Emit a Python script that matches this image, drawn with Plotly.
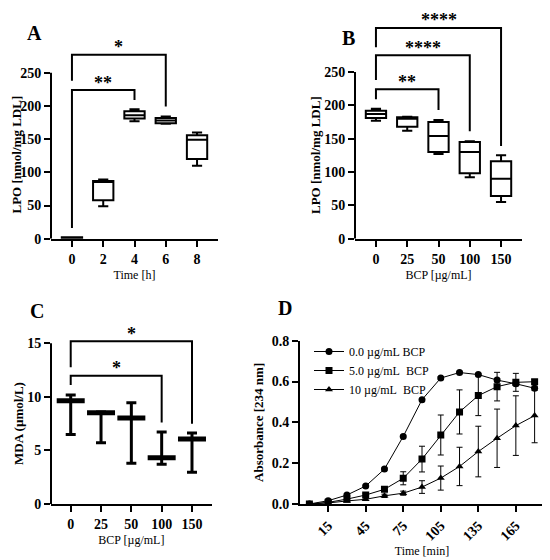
import plotly.graph_objects as go

FONT = "Liberation Serif, Times New Roman, serif"

# ---- panel A: LPO over time (box stats, nmol/mg LDL)
time_h = ["0", "2", "4", "6", "8"]
a_min = [0, 49, 177, 173, 110]
a_q1 = [0, 58, 181, 174, 120]
a_med = [1, 86, 186, 178, 149]
a_q3 = [2, 87, 192, 182, 156]
a_max = [2, 89, 195, 184, 160]
# significance brackets: (from, to, left leg end, top, right leg end, label)
sig_a = [("0", "4", 16, 224, 209, "**"),
         ("0", "6", 238, 277, 199, "*")]

# ---- panel B: LPO vs BCP dose
bcp = ["0", "25", "50", "100", "150"]
b_min = [177, 162, 127, 92, 55]
b_q1 = [181, 168, 130, 98, 64]
b_med = [187, 180, 154, 130, 90]
b_q3 = [192, 182, 175, 145, 116]
b_max = [195, 183, 178, 146, 125]
sig_b = [("0", "50", 209, 224, 193, "**"),
         ("0", "100", 238, 275, 161, "****"),
         ("0", "150", 287, 316, 139, "****")]

# ---- panel C: MDA, mean with range
c_mean = [9.65, 8.53, 8.03, 4.33, 6.07]
c_low = [6.5, 5.73, 3.8, 3.7, 2.96]
c_high = [10.18, 8.6, 9.46, 6.72, 6.63]
sig_c = [("0", "100", 11.1, 11.98, 7.6, "*"),
         ("0", "150", 12.76, 15.2, 7.5, "*")]

# ---- panel D: absorbance kinetics
time_min = [0, 15, 30, 45, 60, 75, 90, 105, 120, 135, 150, 165, 180]
abs_0 = [0.0, 0.016, 0.044, 0.088, 0.171, 0.331, 0.511, 0.617, 0.644, 0.634, 0.607, 0.589, 0.567]
abs_5 = [0.0, 0.008, 0.024, 0.044, 0.072, 0.126, 0.220, 0.338, 0.451, 0.531, 0.575, 0.596, 0.599]
abs_10 = [0.0, 0.005, 0.015, 0.023, 0.040, 0.053, 0.083, 0.127, 0.184, 0.257, 0.322, 0.384, 0.433]
sd_0 = [0, 0.002, 0.003, 0.004, 0.005, 0.006, 0.006, 0.006, 0.006, 0.006, 0.008, 0.010, 0.010]
sd_5 = [0, 0.003, 0.005, 0.008, 0.010, 0.032, 0.063, 0.098, 0.108, 0.098, 0.070, 0.044, 0.010]
sd_10 = [0, 0.002, 0.004, 0.006, 0.008, 0.010, 0.031, 0.059, 0.094, 0.124, 0.143, 0.146, 0.133]

# the page body has an 8px margin, so the figure is sized to fill the rest of the window
W, H, OFF = 542, 552, 8


def fx(px):
    return (px - OFF) / W


def fy(py):
    return 1 - (py - OFF) / H


dom = {
    "A": ([fx(51), fx(218)], [fy(238.7), fy(15)]),
    "B": ([fx(355), fx(522)], [fy(238.7), fy(15)]),
    "C": ([fx(51), fx(211.7)], [fy(504), fy(320)]),
    "D": ([fx(300), fx(544)], [fy(504), fy(340.7)]),
}

fig = go.Figure()


def add_box(xs, lo, q1, med, q3, hi, ax):
    fig.add_trace(go.Box(x=xs, lowerfence=lo, q1=q1, median=med, q3=q3, upperfence=hi,
                         fillcolor="white", line=dict(color="black", width=2),
                         width=0.65, whiskerwidth=0.5, boxpoints=False,
                         showlegend=False, hoverinfo="skip",
                         xaxis="x" + ax, yaxis="y" + ax))


def add_brackets(sig, cats, ax, fsize=18):
    for c1, c2, yl, yt, yr, lab in sig:
        fig.add_trace(go.Scatter(x=[c1, c1, c2, c2], y=[yl, yt, yt, yr], mode="lines",
                                 line=dict(color="black", width=2), showlegend=False,
                                 hoverinfo="skip", xaxis="x" + ax, yaxis="y" + ax))
        mid = (cats.index(c1) + cats.index(c2)) / 2
        fig.add_annotation(x=mid, y=yt, xref="x" + ax, yref="y" + ax, text=lab,
                           showarrow=False, xanchor="center", yanchor="middle", yshift=7.5,
                           font=dict(family=FONT, size=fsize, color="black", weight="bold"))


add_box(time_h, a_min, a_q1, a_med, a_q3, a_max, "")
add_brackets(sig_a, time_h, "")
add_box(bcp, b_min, b_q1, b_med, b_q3, b_max, "2")
add_brackets(sig_b, bcp, "2")

# C: thick mean bar + range whiskers
fig.add_trace(go.Scatter(
    x=bcp, y=c_mean, mode="markers",
    marker=dict(symbol="line-ew", size=20, line=dict(color="black", width=5)),
    error_y=dict(type="data", symmetric=False,
                 array=[h - m for h, m in zip(c_high, c_mean)],
                 arrayminus=[m - l for m, l in zip(c_mean, c_low)],
                 color="black", thickness=3, width=5),
    showlegend=False, hoverinfo="skip", xaxis="x3", yaxis="y3"))
add_brackets(sig_c, bcp, "3")

# D: kinetics
for name, ys, sd, sym in [("0.0 µg/mL BCP", abs_0, sd_0, "circle"),
                          ("5.0 µg/mL\u00a0 BCP", abs_5, sd_5, "square"),
                          ("10 µg/mL\u00a0 BCP", abs_10, sd_10, "triangle-up")]:
    fig.add_trace(go.Scatter(
        x=time_min, y=ys, name=name, mode="lines+markers",
        line=dict(color="black", width=1),
        marker=dict(symbol=sym, size=7, color="black"),
        error_y=dict(type="data", array=sd, color="black", thickness=1, width=3),
        xaxis="x4", yaxis="y4"))

tick_font = dict(family=FONT, size=14, color="black", weight="bold")
ytitle_font = dict(family=FONT, size=13, color="black", weight="bold")
xtitle_font = dict(family=FONT, size=12, color="black")

common_x = dict(showline=True, linewidth=2, linecolor="black", ticks="outside",
                ticklen=6, tickwidth=2, tickcolor="black", showgrid=False,
                zeroline=False, tickfont=tick_font, automargin=False)
common_y = dict(showline=False, ticks="outside", ticklen=6, tickwidth=2,
                tickcolor="black", showgrid=False, zeroline=False, tickfont=tick_font,
                automargin=False)

fig.update_layout(
    width=W, height=H, margin=dict(l=0, r=0, t=0, b=0, pad=0, autoexpand=False),
    paper_bgcolor="white", plot_bgcolor="white",
    font=dict(family=FONT, color="black"),
    xaxis=dict(common_x, domain=dom["A"][0], anchor="y", type="category",
               range=[-0.67, 4.67],
               title=dict(text="Time [h]", font=xtitle_font, standoff=5)),
    yaxis=dict(common_y, domain=dom["A"][1], anchor="x", range=[0, 337],
               tickvals=[0, 50, 100, 150, 200, 250]),
    xaxis2=dict(common_x, domain=dom["B"][0], anchor="y2", type="category",
                range=[-0.67, 4.67],
                title=dict(text="BCP [µg/mL]", font=xtitle_font, standoff=5)),
    yaxis2=dict(common_y, domain=dom["B"][1], anchor="x2", range=[0, 335.5],
                tickvals=[0, 50, 100, 150, 200, 250]),
    xaxis3=dict(common_x, domain=dom["C"][0], anchor="y3", type="category",
                range=[-0.65, 4.65],
                title=dict(text="BCP [µg/mL]", font=xtitle_font, standoff=5)),
    yaxis3=dict(common_y, domain=dom["C"][1], anchor="x3", range=[0, 17.18],
                tickvals=[0, 5, 10, 15]),
    xaxis4=dict(common_x, domain=dom["D"][0], anchor="y4", range=[-7.5, 187.5],
                tickvals=[15, 45, 75, 105, 135, 165], tickangle=-45,
                title=dict(text="Time [min]", font=xtitle_font, standoff=3)),
    yaxis4=dict(common_y, domain=dom["D"][1], anchor="x4", range=[0, 0.8],
                showline=True, linewidth=2, linecolor="black",
                tickvals=[0, 0.2, 0.4, 0.6, 0.8], tickformat=".1f",
                title=dict(text="Absorbance [234 nm]", font=ytitle_font, standoff=5)),
    legend=dict(x=fx(309), y=fy(337), xanchor="left", yanchor="top",
                bgcolor="rgba(0,0,0,0)", font=dict(family=FONT, size=12, color="black"),
                tracegroupgap=0, itemwidth=30),
)

# y axis lines for A-C stop at the top tick
for key, ax, top in [("A", "", 250), ("B", "2", 250), ("C", "3", 15)]:
    x0 = dom[key][0][0]
    fig.add_shape(type="line", xref="paper", yref="y" + ax, x0=x0, x1=x0, y0=0, y1=top,
                  line=dict(color="black", width=2), layer="above")

# y titles of A-C centred on the drawn part of the axis
for txt, px, py in [("LPO [nmol/mg LDL]", 16.5, 155), ("LPO [nmol/mg LDL]", 316, 155),
                    ("MDA (µmol/L)", 18, 424)]:
    fig.add_annotation(x=fx(px), y=fy(py), xref="paper", yref="paper", text=txt,
                       showarrow=False, textangle=-90, xanchor="center", yanchor="middle",
                       font=ytitle_font)

for lab, px, py in [("A", 34, 33), ("B", 348, 38), ("C", 37, 311), ("D", 285, 308)]:
    fig.add_annotation(x=fx(px), y=fy(py), xref="paper", yref="paper", text=lab,
                       showarrow=False, xanchor="center", yanchor="middle",
                       font=dict(family=FONT, size=20, color="black", weight="bold"))

fig.write_html("out.html")
